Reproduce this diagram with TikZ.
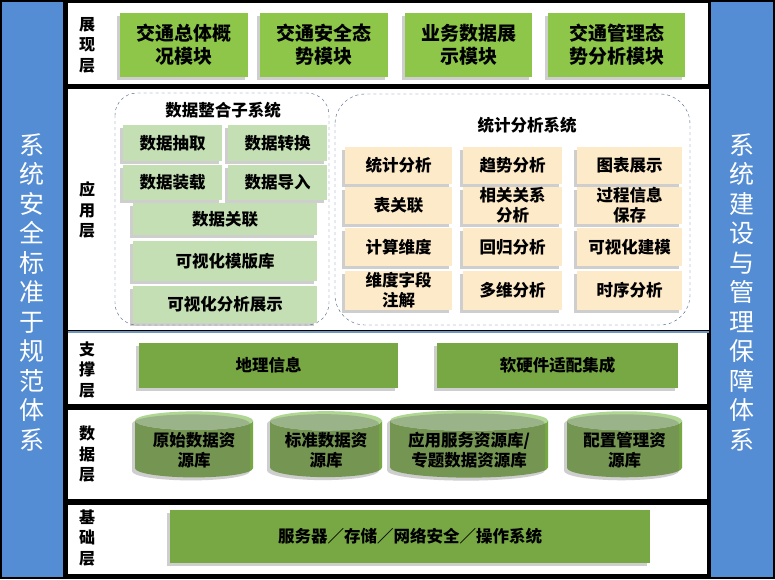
\documentclass[tikz,border=0pt]{standalone}
\usepackage{fontspec}
\setmainfont{Noto Sans CJK SC}
\usepackage{xcolor}
\usepackage{tikz}
\usetikzlibrary{positioning,shapes.geometric,shadows}
\definecolor{SideBlue}{RGB}{84,141,212}
\definecolor{TopGreen}{RGB}{141,198,72}
\definecolor{PaleGreen}{RGB}{196,223,180}
\definecolor{Cream}{RGB}{253,234,200}
\definecolor{MidGreen}{RGB}{119,168,67}
\definecolor{DbLight}{RGB}{176,214,148}
\definecolor{GrpLine}{RGB}{70,95,130}
\definecolor{SepBlue}{RGB}{110,150,190}

\begin{document}
\begin{tikzpicture}[
  x=1pt, y=-1pt,
  every node/.style={align=center, inner sep=1pt},
  shd/.style={drop shadow={shadow xshift=-3pt, shadow yshift=-3pt, opacity=0.35, fill=black!55}},
  topbox/.style={shd, fill=TopGreen, font=\fontsize{19}{23}\selectfont\bfseries},
  subbox/.style={shd, fill=PaleGreen, font=\fontsize{16.5}{19}\selectfont\bfseries},
  statbox/.style={shd, fill=Cream, font=\fontsize{16.5}{20}\selectfont\bfseries},
  supbox/.style={shd, fill=MidGreen, font=\fontsize{16.5}{19}\selectfont\bfseries},
  db/.style={shd, cylinder, shape border rotate=90, aspect=0.22, cylinder uses custom fill,
    cylinder body fill=MidGreen, cylinder end fill=DbLight, font=\fontsize{16.5}{20}\selectfont\bfseries},
  grp/.style={draw=GrpLine, dashed, rounded corners=22pt},
  lbl/.style={font=\fontsize{16}{20.5}\selectfont\bfseries},
  sidetxt/.style={text=white, font=\fontsize{25}{29.5}\selectfont}
]
% frame and side bars
\fill[black] (0,0) rectangle (775,579);
\fill[SideBlue] (2,2) rectangle (63,577);
\fill[SideBlue] (711,2) rectangle (773,577);
\node[sidetxt] (leftside) at (32,292) {系\\统\\安\\全\\标\\准\\于\\规\\范\\体\\系};
\node[sidetxt] (rightside) at (742,292) {系\\统\\建\\设\\与\\管\\理\\保\\障\\体\\系};

% layers
\fill[white] (68,3) rectangle (708,84);
\fill[white] (68,89) rectangle (709,330);
\fill[white] (68,333) rectangle (707,404);
\fill[white] (68,410) rectangle (707,499);
\fill[white] (68,505) rectangle (707,574);
\draw[SepBlue, line width=2pt] (68,331.5) -- (709,331.5);

\node[lbl] (presL) at (87,45) {展\\现\\层};
\node[lbl] (appL) at (87,210) {应\\用\\层};
\node[lbl] (supL) at (87,370) {支\\撑\\层};
\node[lbl] (dataL) at (87,454) {数\\据\\层};
\node[lbl] (baseL) at (87,538) {基\\础\\层};

% presentation layer
\node[topbox, minimum width=128pt, minimum height=64pt] (overall) at (184,45) {交通总体概\\况模块};
\node[topbox, minimum width=128pt, minimum height=64pt] (safety) at (324,45) {交通安全态\\势模块};
\node[topbox, minimum width=127pt, minimum height=64pt] (bizdata) at (468.5,45) {业务数据展\\示模块};
\node[topbox, minimum width=137pt, minimum height=64pt] (mgmt) at (616.5,45) {交通管理态\\势分析模块};

% application layer
\draw[grp] (115,93) rectangle (329,325);
\draw[grp, rounded corners=30pt] (335,94) rectangle (690,325);
\node[font=\fontsize{16.5}{19}\selectfont\bfseries] (integT) at (223,110) {数据整合子系统};
\node[font=\fontsize{16.5}{19}\selectfont\bfseries] (statT) at (527,125) {统计分析系统};

\node[subbox, minimum width=99pt, minimum height=36pt] (extract) at (172.5,143) {数据抽取};
\node[subbox, minimum width=99pt, minimum height=36pt] (transf) at (277.5,143) {数据转换};
\node[subbox, minimum width=99pt, minimum height=35pt] (load) at (172.5,182) {数据装载};
\node[subbox, minimum width=99pt, minimum height=35pt] (import) at (277.5,182) {数据导入};
\node[subbox, minimum width=184pt, minimum height=32pt] (assoc) at (225,219) {数据关联};
\node[subbox, minimum width=184pt, minimum height=40pt] (templ) at (225,261) {可视化模版库};
\node[subbox, minimum width=184pt, minimum height=37pt] (visshow) at (225,304) {可视化分析展示};

\node[statbox, minimum width=107pt, minimum height=37pt] (stat) at (398.5,165.5) {统计分析};
\node[statbox, minimum width=99pt, minimum height=37pt] (trend) at (512.5,165.5) {趋势分析};
\node[statbox, minimum width=105pt, minimum height=37pt] (chart) at (629.5,165.5) {图表展示};
\node[statbox, minimum width=107pt, minimum height=37pt] (tabrel) at (398.5,205.5) {表关联};
\node[statbox, minimum width=99pt, minimum height=37pt] (corr) at (512.5,205.5) {相关关系\\分析};
\node[statbox, minimum width=105pt, minimum height=37pt] (proc) at (629.5,205.5) {过程信息\\保存};
\node[statbox, minimum width=107pt, minimum height=38pt] (calcdim) at (398.5,247) {计算维度};
\node[statbox, minimum width=99pt, minimum height=38pt] (regr) at (512.5,247) {回归分析};
\node[statbox, minimum width=105pt, minimum height=38pt] (vismod) at (629.5,247) {可视化建模};
\node[statbox, minimum width=107pt, minimum height=39pt] (dimnote) at (398.5,290.5) {维度字段\\注解};
\node[statbox, minimum width=99pt, minimum height=39pt] (multi) at (512.5,290.5) {多维分析};
\node[statbox, minimum width=105pt, minimum height=39pt] (tseries) at (629.5,290.5) {时序分析};

% support layer
\node[supbox, minimum width=259pt, minimum height=45pt] (geo) at (268.5,365.5) {地理信息};
\node[supbox, minimum width=241pt, minimum height=45pt] (hwsw) at (557.5,365.5) {软硬件适配集成};

% data layer
\node[db, minimum width=118pt, minimum height=66pt] (rawdb) at (194,450) {原始数据资\\源库};
\node[db, aspect=0.23, minimum width=112pt, minimum height=66pt] (stddb) at (326,450) {标准数据资\\源库};
\node[db, aspect=0.165, minimum width=158pt, minimum height=66pt] (appdb) at (469,450) {应用服务资源库/\\专题数据资源库};
\node[db, aspect=0.225, minimum width=115pt, minimum height=66pt] (cfgdb) at (624.5,450) {配置管理资\\源库};

% base layer
\node[supbox, minimum width=480pt, minimum height=53pt] (infra) at (410,536.5) {服务器／存储／网络安全／操作系统};
\end{tikzpicture}
\end{document}
